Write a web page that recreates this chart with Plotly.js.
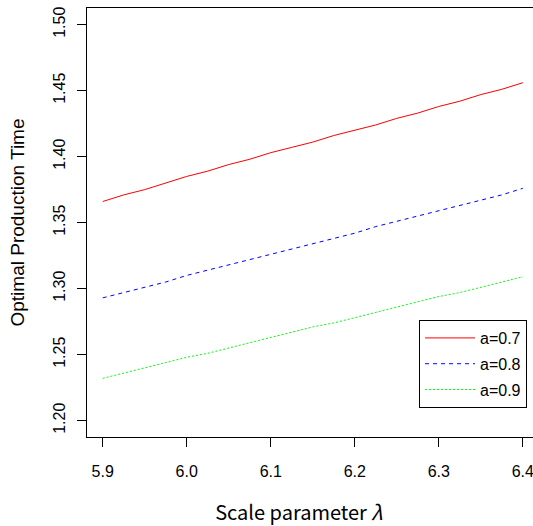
<!DOCTYPE html>
<html>
<head>
<meta charset="utf-8">
<script src="https://cdn.plot.ly/plotly-3.0.1.min.js"></script>
<style>html,body{margin:0;padding:0;background:#fff;}#chart{width:533px;height:526px;}</style>
</head>
<body>
<div id="chart"></div>
<script>
// Scale parameter lambda
var lambda = [5.900, 5.925, 5.950, 5.975, 6.000, 6.025, 6.050, 6.075, 6.100, 6.125, 6.150,
              6.175, 6.200, 6.225, 6.250, 6.275, 6.300, 6.325, 6.350, 6.375, 6.400];
// Optimal production time for a = 0.7, 0.8, 0.9
var timeA07 = [1.366, 1.371, 1.375, 1.380, 1.385, 1.389, 1.394, 1.398, 1.403, 1.407, 1.411,
               1.416, 1.420, 1.424, 1.429, 1.433, 1.438, 1.442, 1.447, 1.451, 1.456];
var timeA08 = [1.293, 1.297, 1.301, 1.305, 1.310, 1.314, 1.318, 1.322, 1.326, 1.330, 1.334,
               1.338, 1.342, 1.347, 1.351, 1.355, 1.359, 1.363, 1.367, 1.371, 1.376];
var timeA09 = [1.232, 1.236, 1.240, 1.244, 1.248, 1.251, 1.255, 1.259, 1.263, 1.267, 1.271,
               1.274, 1.278, 1.282, 1.286, 1.290, 1.294, 1.297, 1.301, 1.305, 1.309];
var seriesNames = ["a=0.7", "a=0.8", "a=0.9"];
var xTicks = [5.9, 6.0, 6.1, 6.2, 6.3, 6.4];
var yTicks = [1.20, 1.25, 1.30, 1.35, 1.40, 1.45, 1.50];

var tickFont = {family: "Arial", size: 16, color: "#000"};

var traces = [
  {x: lambda, y: timeA07, name: seriesNames[0], mode: "lines", legendgroup: "g1",
   line: {color: "#FF0000", width: 1, dash: "solid"}},
  {x: lambda, y: timeA08, name: seriesNames[1], mode: "lines", legendgroup: "g2",
   line: {color: "#0000FF", width: 1, dash: "4px,4px"}},
  {x: lambda, y: timeA09, name: seriesNames[2], mode: "lines", legendgroup: "g3",
   line: {color: "#00FF00", width: 1, dash: "2px,2px"}}
];

var layout = {
  width: 533, height: 526,
  margin: {l: 87, r: 0, t: 8, b: 89, pad: 0},
  paper_bgcolor: "#fff", plot_bgcolor: "#fff",
  font: {family: "Arial", color: "#000"},
  showlegend: true,
  legend: {
    x: 0.7444, y: 0.2727, xanchor: "left", yanchor: "top",
    bordercolor: "#000", borderwidth: 1, bgcolor: "#fff",
    font: tickFont, traceorder: "grouped", tracegroupgap: 2,
    itemwidth: 50
  },
  xaxis: {
    range: [5.8813, 6.4121], tickvals: xTicks, ticktext: xTicks.map(function(v){return v.toFixed(1);}),
    showgrid: false, zeroline: false, showline: true, mirror: true,
    linecolor: "#000", linewidth: 1,
    ticks: "outside", ticklen: 9, tickwidth: 1, tickcolor: "#000",
    tickfont: tickFont, ticklabelstandoff: 11, ticklabeloverflow: "allow",
    title: {text: "Scale parameter <i>λ</i>&nbsp;&nbsp;&nbsp;&nbsp;&nbsp;", standoff: 27,
            font: {family: "Noto Sans CJK KR", size: 20, color: "#000"}}
  },
  yaxis: {
    range: [1.18758, 1.5126], tickvals: yTicks, ticktext: yTicks.map(function(v){return v.toFixed(2);}),
    showgrid: false, zeroline: false, showline: true, mirror: false,
    linecolor: "#000", linewidth: 1,
    ticks: "outside", ticklen: 9, tickwidth: 1, tickcolor: "#000",
    tickfont: tickFont, tickangle: -90, ticklabelstandoff: 6,
    title: {text: "Optimal Production Time", standoff: 20,
            font: {family: "Arial", size: 19, color: "#000"}}
  }
};

Plotly.newPlot("chart", traces, layout, {displayModeBar: false, staticPlot: true});
</script>
</body>
</html>
